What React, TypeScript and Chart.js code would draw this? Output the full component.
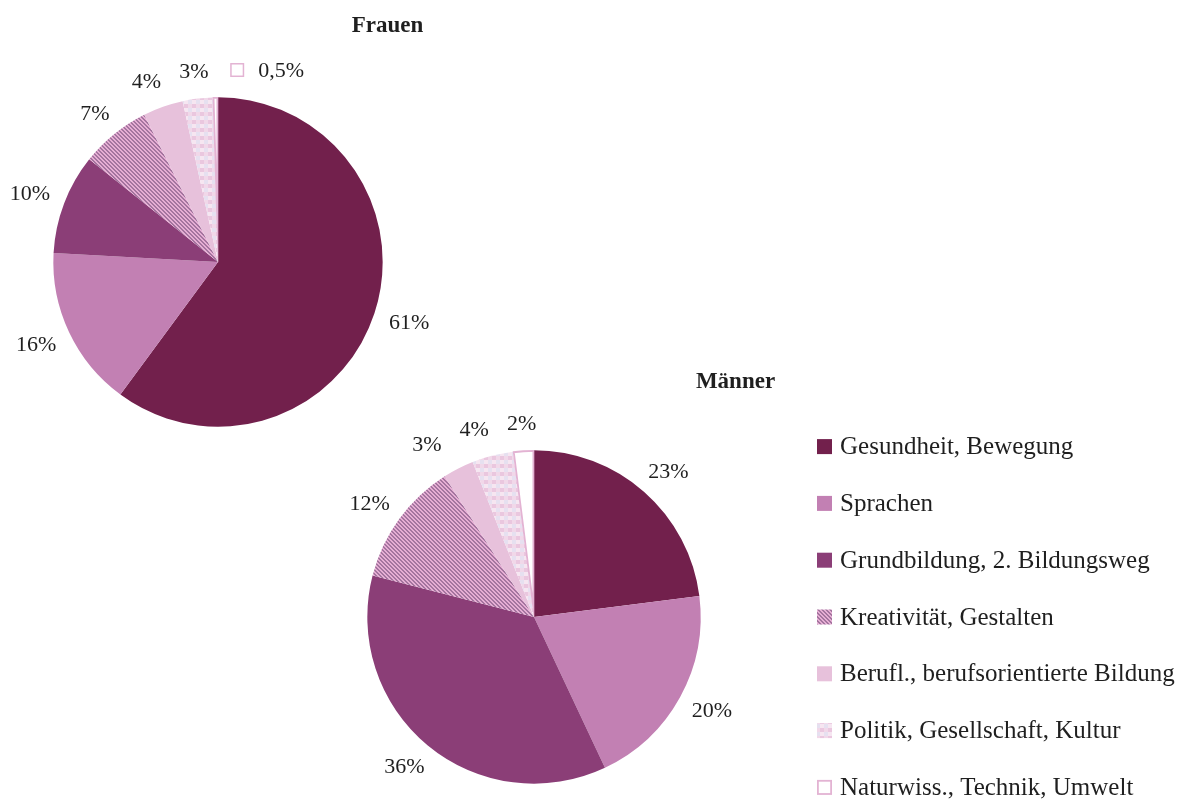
import React, { useEffect, useRef } from "react";
import { Chart, registerables } from "chart.js";

Chart.register(...registerables);

// ---------- data ----------
const categories = [
  "Gesundheit, Bewegung",
  "Sprachen",
  "Grundbildung, 2. Bildungsweg",
  "Kreativität, Gestalten",
  "Berufl., berufsorientierte Bildung",
  "Politik, Gesellschaft, Kultur",
  "Naturwiss., Technik, Umwelt",
];
const frauenValues = [61, 16, 10, 7, 4, 3, 0.5];
const maennerValues = [23, 20, 36, 12, 3, 4, 2];
const frauenTitle = "Frauen";
const maennerTitle = "Männer";
// which data labels carry a legend key in front of them
const frauenKeyedLabels = [false, false, false, false, false, false, true];
const maennerKeyedLabels = [false, false, false, false, false, false, false];

// ---------- styles ----------
const FONT = '"Liberation Serif", "Times New Roman", serif';
const TEXT_COLOR = "#1f1f1f";
const solidColors = ["#72204C", "#C280B3", "#8B3E77", "", "#E7C1DB", "", "#FFFFFF"];
const borderColors = ["#ffffff", "#ffffff", "#ffffff", "#ffffff", "#ffffff", "#ffffff", "#E3B3D3"];
const borderWidths = [0, 0, 0, 0, 0, 0, 1.5];

function makeHatch(): CanvasPattern | string {
  const c = document.createElement("canvas");
  c.width = 4;
  c.height = 4;
  const g = c.getContext("2d")!;
  for (let y = 0; y < 4; y++) {
    for (let x = 0; x < 4; x++) {
      const m = (((x - y) % 4) + 4) % 4;
      g.fillStyle = m < 2 ? "#A4759F" : "#E6AED4";
      g.fillRect(x, y, 1, 1);
    }
  }
  return g.createPattern(c, "repeat") || "#C08AB5";
}

function makeCheck(): CanvasPattern | string {
  const c = document.createElement("canvas");
  c.width = 8;
  c.height = 8;
  const g = c.getContext("2d")!;
  g.fillStyle = "#F6E6F1";
  g.fillRect(0, 0, 8, 8);
  g.fillStyle = "#EAC7DF";
  g.fillRect(0, 0, 4, 4);
  g.fillStyle = "#E6E0F0";
  g.fillRect(4, 4, 4, 4);
  g.fillStyle = "#F1D8E9";
  g.fillRect(4, 0, 4, 4);
  return g.createPattern(c, "repeat") || "#F2DDEB";
}

function buildFills() {
  const fills: (string | CanvasPattern)[] = solidColors.slice();
  fills[3] = makeHatch();
  fills[5] = makeCheck();
  return fills;
}

const fmtPct = (v: number) => v.toLocaleString("de-DE") + "%";

// ---------- plugins ----------
const fixedTitlePlugin = {
  id: "fixedTitle",
  afterDraw(chart: any, _args: any, opts: any) {
    const ctx = chart.ctx as CanvasRenderingContext2D;
    ctx.save();
    ctx.font = `bold ${opts.size}px ${FONT}`;
    ctx.fillStyle = TEXT_COLOR;
    ctx.textAlign = "center";
    ctx.textBaseline = "alphabetic";
    ctx.fillText(opts.text, opts.x, opts.y);
    ctx.restore();
  },
};

const pieLabelsPlugin = {
  id: "pieLabels",
  afterDatasetsDraw(chart: any, _args: any, opts: any) {
    const ctx = chart.ctx as CanvasRenderingContext2D;
    const meta = chart.getDatasetMeta(0);
    const ds = chart.data.datasets[0];
    const size = opts.size;
    const keySize = opts.keySize;
    const keyGap = opts.keyGap;
    ctx.save();
    ctx.font = `${size}px ${FONT}`;
    const items = meta.data.map((arc: any, i: number) => {
      const p = arc.getProps(["x", "y", "startAngle", "endAngle", "outerRadius"], true);
      const mid = (p.startAngle + p.endAngle) / 2;
      const dx = Math.cos(mid);
      const dy = Math.sin(mid);
      const text = fmtPct(ds.data[i]);
      const tw = ctx.measureText(text).width;
      const keyed = !!(opts.keyed && opts.keyed[i]);
      const w = keyed ? keySize + keyGap + tw : tw;
      const h = size;
      const px = p.x + dx * (p.outerRadius + opts.offset);
      const py = p.y + dy * (p.outerRadius + opts.offset);
      const left = keyed ? px + opts.keyShift : px + (dx * w) / 2 - w / 2;
      const cy = py + (dy * h) / 2;
      return { i, text, tw, w, h, left, cy, keyed, dx, dy };
    });
    // spread the crowded labels near the top to the left
    const top = items
      .filter((it: any) => it.dy < -0.8 && it.dx <= 0.05)
      .sort((a: any, b: any) => b.left - a.left);
    for (let k = 1; k < top.length; k++) {
      const prev = top[k - 1];
      const cur = top[k];
      if (Math.abs(prev.cy - cur.cy) < (prev.h + cur.h) / 2) {
        const maxRight = prev.left - opts.gap;
        if (cur.left + cur.w > maxRight) cur.left = maxRight - cur.w;
      }
    }
    ctx.textBaseline = "middle";
    ctx.textAlign = "left";
    items.forEach((it: any) => {
      let x = it.left;
      if (it.keyed) {
        const bg = ds.backgroundColor[it.i];
        ctx.fillStyle = bg;
        ctx.fillRect(x, it.cy - keySize / 2, keySize, keySize);
        ctx.strokeStyle = ds.borderColor[it.i];
        ctx.lineWidth = 1.5;
        ctx.strokeRect(x + 0.75, it.cy - keySize / 2 + 0.75, keySize - 1.5, keySize - 1.5);
        x += keySize + keyGap;
      }
      ctx.fillStyle = TEXT_COLOR;
      ctx.fillText(it.text, x, it.cy + 1);
    });
    ctx.restore();
  },
};

const sideLegendPlugin = {
  id: "sideLegend",
  afterDraw(chart: any, _args: any, opts: any) {
    const ctx = chart.ctx as CanvasRenderingContext2D;
    const area = chart.chartArea;
    const ds = chart.data.datasets[0];
    const labels: string[] = chart.data.labels;
    const n = labels.length;
    const cy = (area.top + area.bottom) / 2;
    const bx = area.right + opts.offsetX;
    const box = opts.box;
    ctx.save();
    ctx.font = `${opts.size}px ${FONT}`;
    ctx.textBaseline = "middle";
    ctx.textAlign = "left";
    labels.forEach((lab, i) => {
      const y = cy + (i - (n - 1) / 2) * opts.spacing;
      ctx.fillStyle = ds.backgroundColor[i];
      ctx.fillRect(bx, y - box / 2, box, box);
      if (ds.borderWidth[i] > 0) {
        ctx.strokeStyle = ds.borderColor[i];
        ctx.lineWidth = 1.8;
        ctx.strokeRect(bx + 0.9, y - box / 2 + 0.9, box - 1.8, box - 1.8);
      }
      ctx.fillStyle = TEXT_COLOR;
      ctx.fillText(lab, bx + box + opts.textGap, y + 1);
    });
    ctx.restore();
  },
};

function makePie(
  canvas: HTMLCanvasElement,
  values: number[],
  fills: (string | CanvasPattern)[],
  padding: { left: number; right: number; top: number; bottom: number },
  title: { text: string; x: number; y: number },
  keyed: boolean[],
  withLegend: boolean
) {
  const plugins: any[] = [fixedTitlePlugin, pieLabelsPlugin];
  if (withLegend) plugins.push(sideLegendPlugin);
  return new Chart(canvas, {
    type: "pie",
    data: {
      labels: categories,
      datasets: [
        {
          data: values,
          backgroundColor: fills as any,
          borderColor: borderColors,
          borderWidth: borderWidths,
          borderAlign: "inner",
          hoverOffset: 0,
        } as any,
      ],
    },
    options: {
      responsive: false,
      maintainAspectRatio: false,
      animation: false,
      events: [],
      layout: { padding },
      plugins: {
        legend: { display: false },
        tooltip: { enabled: false },
        fixedTitle: { text: title.text, x: title.x, y: title.y, size: 23 },
        pieLabels: {
          size: 22,
          offset: 16,
          gap: 18,
          keyed,
          keySize: 14,
          keyGap: 14,
          keyShift: 15,
        },
        sideLegend: withLegend
          ? { size: 25, spacing: 56.8, offsetX: 116, box: 15, textGap: 8 }
          : undefined,
      } as any,
    },
    plugins,
  });
}

export default function App() {
  const frauenRef = useRef<HTMLCanvasElement>(null);
  const maennerRef = useRef<HTMLCanvasElement>(null);

  useEffect(() => {
    document.body.style.margin = "0";
    const fills = buildFills();
    const f = makePie(
      frauenRef.current!,
      frauenValues,
      fills,
      { left: 53, right: 217, top: 97, bottom: 13 },
      { text: frauenTitle, x: 387.5, y: 32 },
      frauenKeyedLabels,
      false
    );
    const m = makePie(
      maennerRef.current!,
      maennerValues,
      fills,
      { left: 67, right: 492, top: 90, bottom: 18 },
      { text: maennerTitle, x: 435.5, y: 28 },
      maennerKeyedLabels,
      true
    );
    return () => {
      f.destroy();
      m.destroy();
    };
  }, []);

  return (
    <div style={{ position: "relative", width: 1193, height: 802, overflow: "hidden", background: "#fff" }}>
      <canvas
        ref={frauenRef}
        width={600}
        height={440}
        style={{ position: "absolute", left: 0, top: 0 }}
      />
      <canvas
        ref={maennerRef}
        width={893}
        height={442}
        style={{ position: "absolute", left: 300, top: 360 }}
      />
    </div>
  );
}
